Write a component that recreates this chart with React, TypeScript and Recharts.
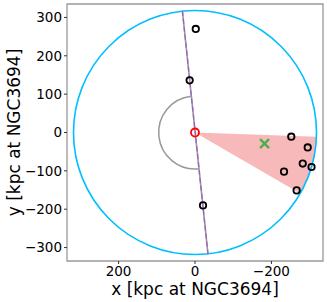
import {
  ReferenceArea,
  ReferenceLine,
  Scatter,
  ScatterChart,
  XAxis,
  YAxis,
} from "recharts";

// satellites (black open circles)
const satX = [-2, 14, -21, -252, -295, -282, -305, -233, -266];
const satY = [270, 136, -190, -11, -39, -81, -90, -102, -151];

// host galaxy and the green centroid
const hostPoint = [{ x: 0, y: 0 }];
const centroidPoint = [{ x: -182, y: -29 }];

// geometry in kpc
const virialRadius = 318;
const innerRadius = 95;
const majorAxisEnds = [
  { x: 33, y: 317 },
  { x: -34, y: -317 },
];
const majorAxisAngle = 84; // degrees
const wedgeAngles = [182, 210]; // degrees

const xTicks = [200, 0, -200];
const yTicks = [-300, -200, -100, 0, 100, 200, 300];
const limit = 335;

const satellites = satX.map((x, i) => ({ x, y: satY[i] }));

const fmt = (v: number) => String(v).replace("-", "\u2212");
const rad = (d: number) => (d * Math.PI) / 180;

// x axis is reversed: data +x goes left in pixels
function toPx(box: any, angle: number) {
  const cx = box.x + box.width / 2;
  const cy = box.y + box.height / 2;
  const rx = Math.abs(box.width) / 2;
  const ry = Math.abs(box.height) / 2;
  return [cx - rx * Math.cos(rad(angle)), cy - ry * Math.sin(rad(angle)), cx, cy, rx, ry];
}

const CircleShape = (p: any) => {
  const [, , cx, cy, rx, ry] = toPx(p, 0);
  return <ellipse cx={cx} cy={cy} rx={rx} ry={ry} fill="none" stroke="#00bfff" strokeWidth={1.6} />;
};

const WedgeShape = (p: any) => {
  const [x1, y1, cx, cy, rx, ry] = toPx(p, wedgeAngles[0]);
  const [x2, y2] = toPx(p, wedgeAngles[1]);
  const d = `M${cx},${cy} L${x1},${y1} A${rx},${ry} 0 0 1 ${x2},${y2} Z`;
  return <path d={d} fill="#f08080" fillOpacity={0.55} stroke="none" />;
};

const HalfCircleShape = (p: any) => {
  const [x1, y1, , , rx, ry] = toPx(p, majorAxisAngle);
  const [x2, y2] = toPx(p, majorAxisAngle - 180);
  const d = `M${x1},${y1} A${rx},${ry} 0 0 0 ${x2},${y2}`;
  return <path d={d} fill="none" stroke="#999" strokeWidth={1.5} />;
};

const OpenCircle = (p: any) => (
  <circle cx={p.cx} cy={p.cy} r={3.2} fill="none" stroke="#000" strokeWidth={1.8} />
);

const HostCircle = (p: any) => (
  <circle cx={p.cx} cy={p.cy} r={4} fill="none" stroke="#ff0000" strokeWidth={1.8} />
);

const GreenX = (p: any) => {
  const s = 4.5;
  return (
    <g stroke="#4cae4c" strokeWidth={2.4}>
      <line x1={p.cx - s} y1={p.cy - s} x2={p.cx + s} y2={p.cy + s} />
      <line x1={p.cx - s} y1={p.cy + s} x2={p.cx + s} y2={p.cy - s} />
    </g>
  );
};

const tickStyle = { fill: "#000", fontSize: 13.5 };

export default function App() {
  return (
    <div style={{ position: "absolute", left: 0, top: 0, fontFamily: "DejaVu Sans" }}>
      <style>{`body{margin:0}`}</style>
      <ScatterChart width={327} height={302} margin={{ top: 4, right: 4, bottom: 0, left: 0 }}>
        <XAxis
          dataKey="x"
          type="number"
          reversed
          domain={[-limit, limit]}
          allowDataOverflow
          ticks={xTicks}
          tickFormatter={fmt}
          tick={tickStyle}
          tickSize={3}
          tickLine={{ stroke: "#333" }}
          axisLine={false}
          height={41}
          label={{
            value: "x [kpc at NGC3694]",
            position: "insideBottom",
            offset: 7,
            fontSize: 17,
            fill: "#000",
          }}
        />
        <YAxis
          dataKey="y"
          type="number"
          domain={[-limit, limit]}
          allowDataOverflow
          ticks={yTicks}
          tickFormatter={fmt}
          tick={tickStyle}
          tickSize={3}
          tickLine={{ stroke: "#333" }}
          axisLine={false}
          width={67}
          label={{
            content: (lp: any) => {
              const vb = lp.viewBox || {};
              const cy = (vb.y ?? 4) + (vb.height ?? 257) / 2;
              return (
                <text
                  x={20}
                  y={cy}
                  transform={`rotate(-90, 20, ${cy})`}
                  textAnchor="middle"
                  fontSize={17}
                  fill="#000"
                >
                  y [kpc at NGC3694]
                </text>
              );
            },
          }}
        />
        <ReferenceArea
          x1={-virialRadius}
          x2={virialRadius}
          y1={-virialRadius}
          y2={virialRadius}
          shape={WedgeShape}
        />
        <ReferenceArea
          x1={-virialRadius}
          x2={virialRadius}
          y1={-virialRadius}
          y2={virialRadius}
          shape={CircleShape}
        />
        <ReferenceArea
          x1={-innerRadius}
          x2={innerRadius}
          y1={-innerRadius}
          y2={innerRadius}
          shape={HalfCircleShape}
        />
        <ReferenceLine segment={majorAxisEnds} stroke="#999" strokeWidth={1.6} />
        <ReferenceLine segment={majorAxisEnds} stroke="#a05cc8" strokeWidth={1.2} strokeDasharray="5 3" />
        <ReferenceArea
          x1={-limit}
          x2={limit}
          y1={-limit}
          y2={limit}
          fill="none"
          stroke="#999"
          strokeWidth={1.3}
        />
        <Scatter data={satellites} shape={OpenCircle} isAnimationActive={false} />
        <Scatter data={hostPoint} shape={HostCircle} isAnimationActive={false} />
        <Scatter data={centroidPoint} shape={GreenX} isAnimationActive={false} />
      </ScatterChart>
    </div>
  );
}
